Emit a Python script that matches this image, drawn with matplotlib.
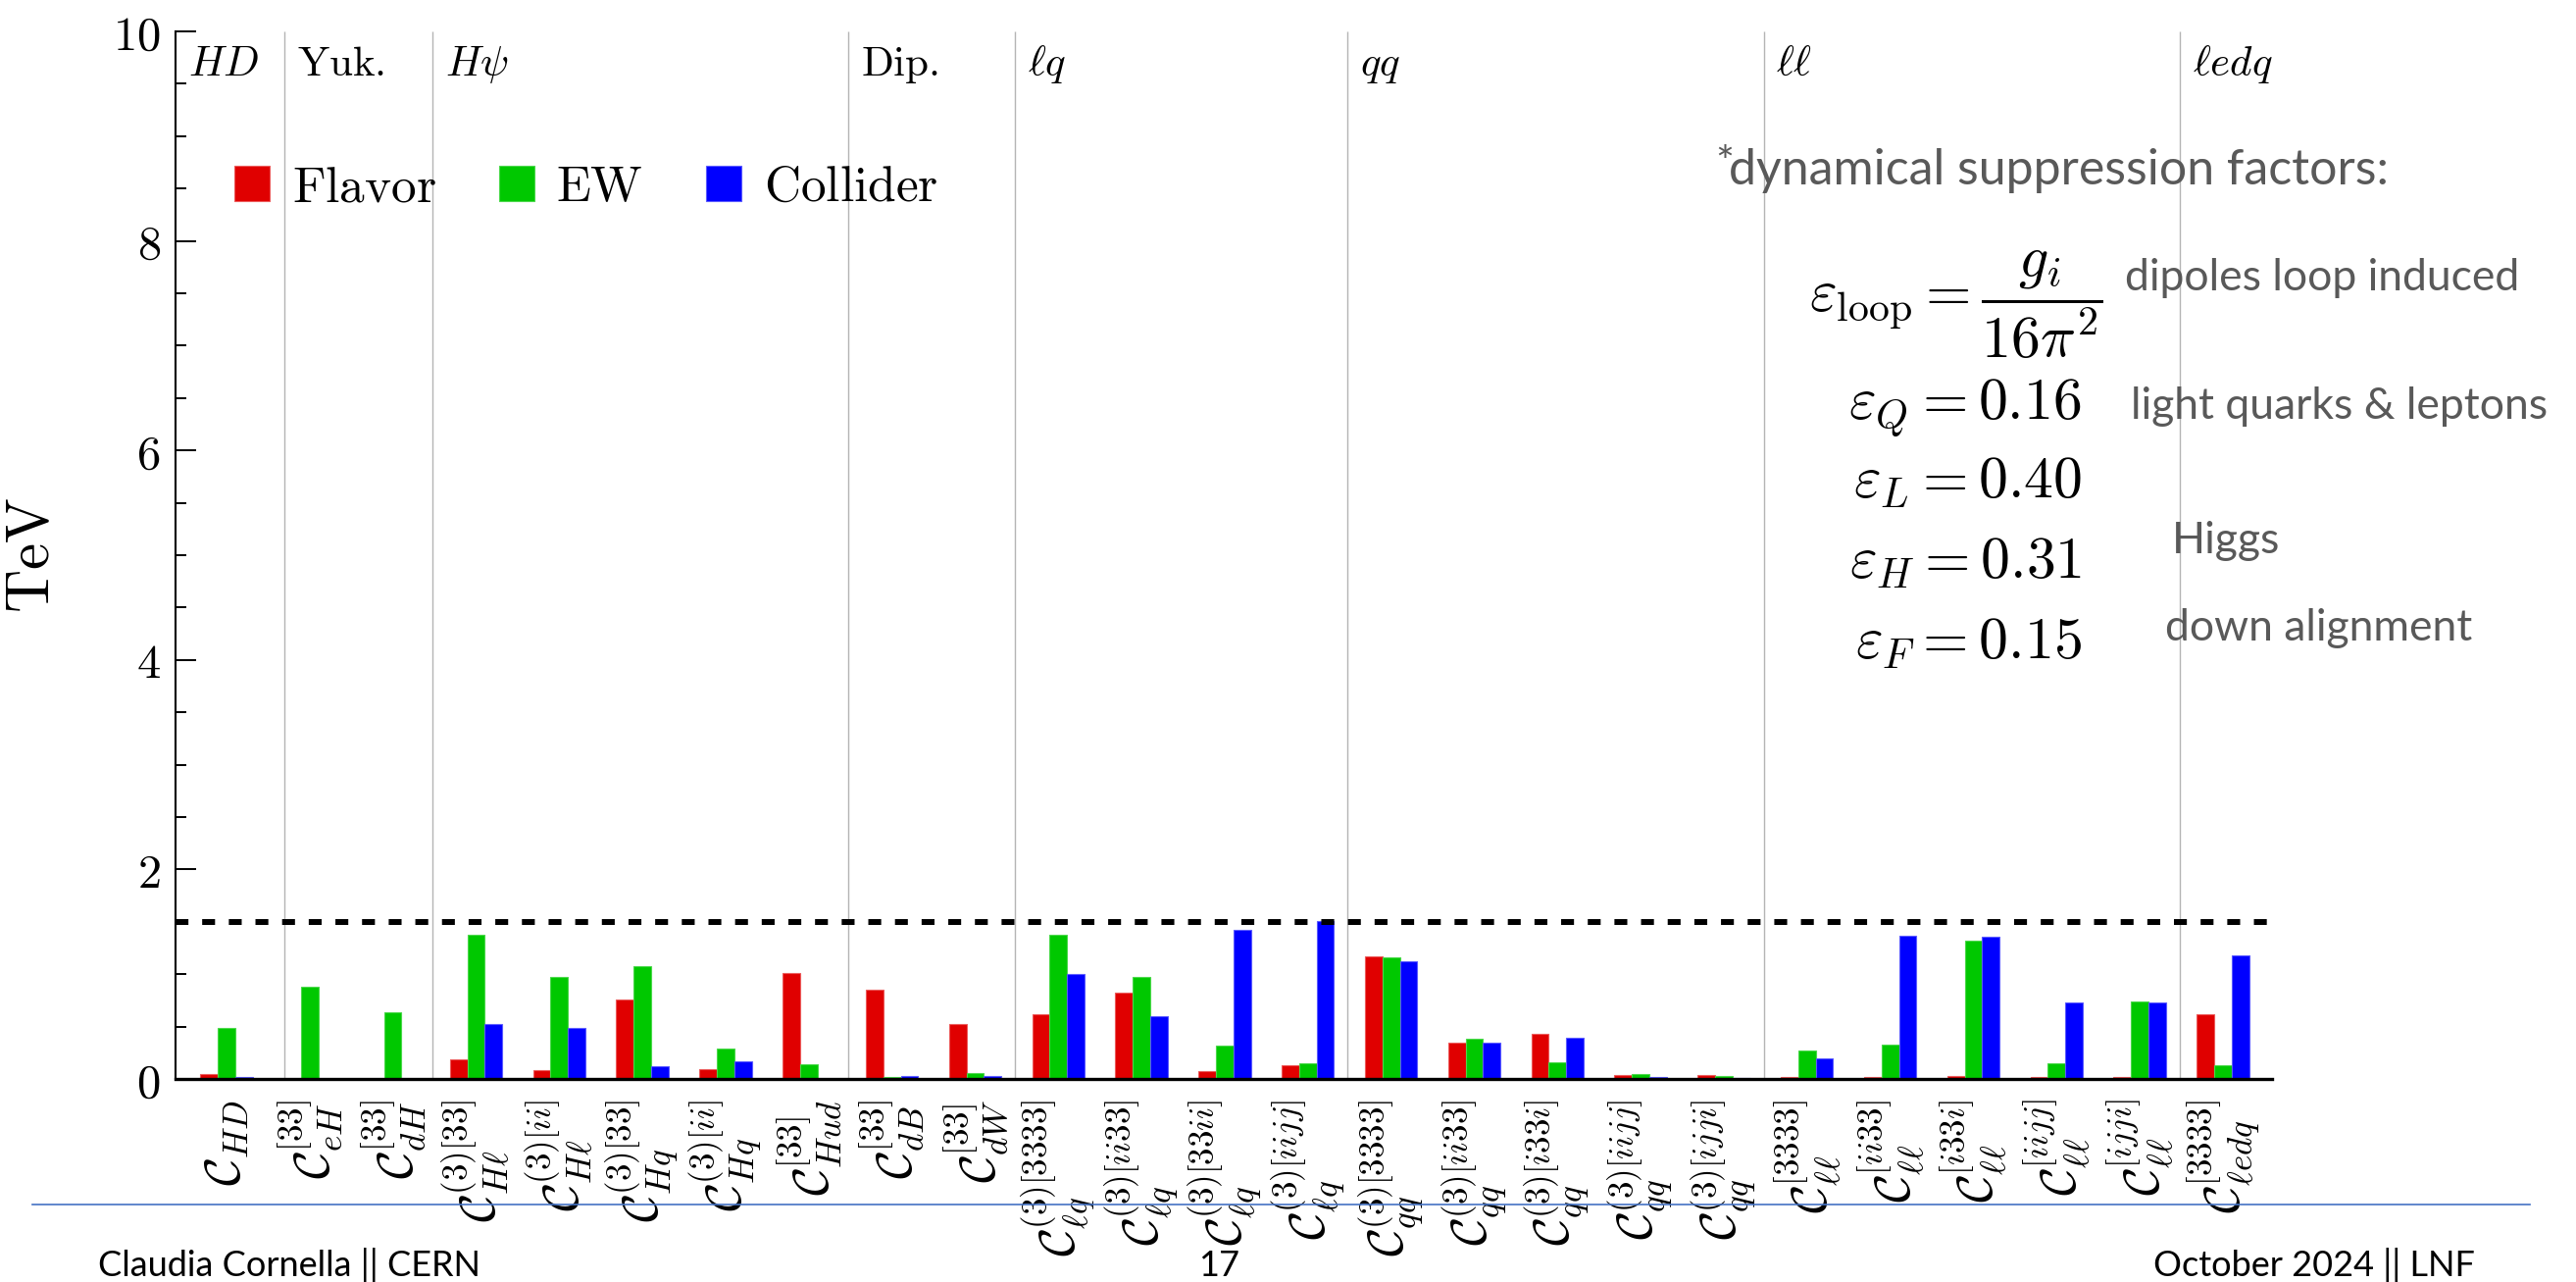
import numpy as np
import matplotlib
matplotlib.use('Agg')
import matplotlib.pyplot as plt
from matplotlib.lines import Line2D

plt.rcParams['mathtext.fontset'] = 'cm'
plt.rcParams['font.family'] = ['DejaVu Serif']

# operators, one bar group each
operators = [
    r'$\mathcal{C}_{HD}$',
    r'$\mathcal{C}_{eH}^{[33]}$',
    r'$\mathcal{C}_{dH}^{[33]}$',
    r'$\mathcal{C}_{H\ell}^{(3)[33]}$',
    r'$\mathcal{C}_{H\ell}^{(3)[ii]}$',
    r'$\mathcal{C}_{Hq}^{(3)[33]}$',
    r'$\mathcal{C}_{Hq}^{(3)[ii]}$',
    r'$\mathcal{C}_{Hud}^{[33]}$',
    r'$\mathcal{C}_{dB}^{[33]}$',
    r'$\mathcal{C}_{dW}^{[33]}$',
    r'$\mathcal{C}_{\ell q}^{(3)[3333]}$',
    r'$\mathcal{C}_{\ell q}^{(3)[ii33]}$',
    r'$\mathcal{C}_{\ell q}^{(3)[33ii]}$',
    r'$\mathcal{C}_{\ell q}^{(3)[iijj]}$',
    r'$\mathcal{C}_{qq}^{(3)[3333]}$',
    r'$\mathcal{C}_{qq}^{(3)[ii33]}$',
    r'$\mathcal{C}_{qq}^{(3)[i33i]}$',
    r'$\mathcal{C}_{qq}^{(3)[iijj]}$',
    r'$\mathcal{C}_{qq}^{(3)[ijji]}$',
    r'$\mathcal{C}_{\ell\ell}^{[3333]}$',
    r'$\mathcal{C}_{\ell\ell}^{[ii33]}$',
    r'$\mathcal{C}_{\ell\ell}^{[i33i]}$',
    r'$\mathcal{C}_{\ell\ell}^{[iijj]}$',
    r'$\mathcal{C}_{\ell\ell}^{[ijji]}$',
    r'$\mathcal{C}_{\ell edq}^{[3333]}$',
]

# bounds in TeV
flavor = [0.047, 0, 0, 0.19, 0.084, 0.76, 0.09, 1.01, 0.85, 0.52,
          0.62, 0.82, 0.078, 0.127, 1.17, 0.35, 0.43, 0.04, 0.04,
          0.02, 0.02, 0.03, 0.015, 0.015, 0.62]
ew = [0.49, 0.88, 0.64, 1.38, 0.97, 1.08, 0.29, 0.14, 0.015, 0.056,
      1.38, 0.97, 0.32, 0.146, 1.16, 0.38, 0.155, 0.043, 0.03,
      0.27, 0.33, 1.32, 0.15, 0.74, 0.13]
collider = [0.015, 0, 0, 0.52, 0.49, 0.12, 0.165, 0, 0.025, 0.028,
            1.00, 0.60, 1.42, 1.51, 1.12, 0.35, 0.39, 0.015, 0.012,
            0.20, 1.37, 1.36, 0.73, 0.73, 1.18]

threshold = 1.5

# operator classes and where each class starts
classes = [r'$HD$', r'$\mathrm{Yuk.}$', r'$H\psi$', r'$\mathrm{Dip.}$',
           r'$\ell q$', r'$qq$', r'$\ell\ell$', r'$\ell edq$']
class_edges = [0.70, 2.48, 7.48, 9.48, 13.48, 18.48, 23.48]

fig = plt.figure(figsize=(26.27, 13.07), dpi=100)
W, H = 2627, 1307
ax = fig.add_axes([179 / W, 1 - 1100 / H, (2317 - 179) / W, (1100 - 32) / H])

x = np.arange(len(operators))
w = 0.21
ax.bar(x - w, flavor, w, color='#e00000', edgecolor='#ec5a5a', linewidth=0.8, label=r'$\mathrm{Flavor}$')
ax.bar(x, ew, w, color='#00c800', edgecolor='#4ad84a', linewidth=0.8, label=r'$\mathrm{EW}$')
ax.bar(x + w, collider, w, color='#0000ff', edgecolor='#5a5aff', linewidth=0.8, label=r'$\mathrm{Collider}$')

ax.vlines(class_edges, 0, 10, color='#b4b4b4', linewidth=1.0, zorder=0)
ax.axhline(threshold, color='black', linewidth=4.3, linestyle=(0, (2.2, 2.35)),
           dash_capstyle='butt')

ax.set_xlim(-0.612, 24.59)
ax.set_ylim(0, 10)

starts = [-0.612] + class_edges
for s, name in zip(starts, classes):
    ax.text(s + 0.15, 9.58, name, fontsize=31, ha='left', va='baseline')

ax.set_yticks(np.arange(0, 11, 2), [f'${v}$' for v in range(0, 11, 2)])
ax.set_yticks(np.arange(0, 10.01, 0.5), minor=True)
ax.tick_params(axis='y', which='major', direction='in', length=15, width=1.4,
               labelsize=35, pad=11)
ax.tick_params(axis='y', which='minor', direction='in', length=8, width=1.4)
ax.set_xticks(x, operators, rotation=90)
ax.tick_params(axis='x', length=0, labelsize=36, pad=15)

ax.spines['top'].set_visible(False)
ax.spines['right'].set_visible(False)
ax.spines['left'].set_linewidth(1.5)
ax.spines['bottom'].set_linewidth(2.4)

ax.set_ylabel(r'$\mathrm{TeV}$', fontsize=44)
ax.yaxis.set_label_coords(-0.0543, 0.5)

ax.legend(loc='center left', bbox_to_anchor=(0.0281, 0.8507), ncol=3,
          frameon=False, fontsize=37, handlelength=0.70, handleheight=0.70,
          handletextpad=0.44, columnspacing=1.25, borderpad=0, borderaxespad=0)

# suppression factors
gray = '#595959'
fig.text(1749 / W, 1 - 180 / H, '*', fontsize=32, color=gray, family='Lato', va='baseline')
fig.text(1763 / W, 1 - 188 / H, 'dynamical suppression factors:', fontsize=36,
         color=gray, family='Lato', va='baseline')
fig.text(1845 / W, 1 - 318 / H, r'$\varepsilon_{\mathrm{loop}} = \dfrac{g_i}{16\pi^2}$',
         fontsize=43, ha='left', va='baseline')
eps_rows = [(r'$\varepsilon_Q = 0.16$', 427), (r'$\varepsilon_L = 0.40$', 508),
            (r'$\varepsilon_H = 0.31$', 590), (r'$\varepsilon_F = 0.15$', 672)]
for s, yb in eps_rows:
    fig.text(2123 / W, 1 - yb / H, s, fontsize=43, ha='right', va='baseline')

notes = [('dipoles loop induced', 2167, 296), ('light quarks & leptons', 2173, 427),
         ('Higgs', 2215, 564), ('down alignment', 2208, 653)]
for s, xl, yb in notes:
    fig.text(xl / W, 1 - yb / H, s, fontsize=32, color=gray, family='Lato', va='baseline')

# slide footer
fig.add_artist(Line2D([33 / W, 2580 / W], [1 - 1228 / H] * 2, color='#4472c4', linewidth=1.2))
fig.text(100 / W, 1 - 1301 / H, 'Claudia Cornella || CERN', fontsize=26, family='Lato', va='baseline')
fig.text(1243 / W, 1 - 1301 / H, '17', fontsize=26, family='Lato', ha='center', va='baseline')
fig.text(2524 / W, 1 - 1301 / H, 'October 2024 || LNF', fontsize=26, family='Lato', ha='right', va='baseline')

fig.savefig('out.png', dpi=100)
